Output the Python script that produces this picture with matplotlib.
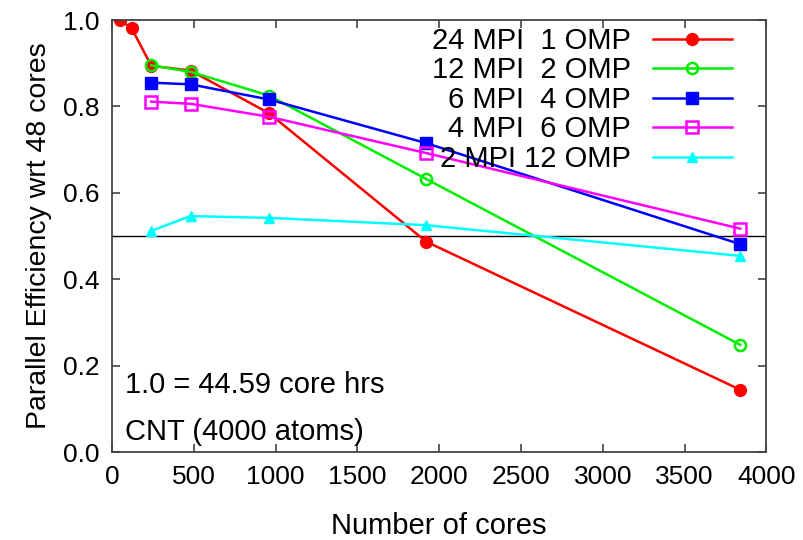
import matplotlib.pyplot as plt
import numpy as np


plt.rcParams.update({
    "font.family": ["Liberation Sans", "DejaVu Sans"],
    "font.size": 19,
    "axes.linewidth": 1.3,
    "axes.edgecolor": "#444444",
})

# data
cores_24x1 = [48, 120, 240, 480, 960, 1920, 3840]
eff_24x1 = [1.0, 0.981, 0.894, 0.883, 0.784, 0.487, 0.144]

cores = [240, 480, 960, 1920, 3840]
eff_12x2 = [0.895, 0.880, 0.825, 0.632, 0.248]
eff_6x4 = [0.855, 0.851, 0.816, 0.715, 0.481]
eff_4x6 = [0.811, 0.806, 0.776, 0.692, 0.517]
eff_2x12 = [0.512, 0.546, 0.542, 0.525, 0.454]

labels = ["24 MPI  1 OMP", "12 MPI  2 OMP", "6 MPI  4 OMP",
          "4 MPI  6 OMP", "2 MPI 12 OMP"]


fig = plt.figure(figsize=(8.04, 5.40), dpi=100)
ax = fig.add_axes([112/804, 1-452/540, 654.5/804, 432/540])

ax.axhline(0.5, color="black", lw=1.0, zorder=1)

ax.plot(cores_24x1, eff_24x1, color="#ff0000", lw=1.8, marker="o",
        ms=8.5, label=labels[0])
ax.plot(cores, eff_12x2, color="#00ee00", lw=1.8, marker="o", ms=8,
        mfc="none", mew=1.8, label=labels[1])
ax.plot(cores, eff_6x4, color="#0000ff", lw=1.8, marker="s", ms=8,
        label=labels[2])
ax.plot(cores, eff_4x6, color="#ff00ff", lw=1.8, marker="s", ms=8.5,
        mfc="none", mew=1.8, label=labels[3])
ax.plot(cores, eff_2x12, color="#00ffff", lw=1.8, marker="^", ms=7,
        label=labels[4])

ax.set_xlim(0, 4000)
ax.set_ylim(0, 1.0)
ax.set_xticks(np.arange(0, 4001, 500))
ax.set_yticks(np.arange(0, 1.01, 0.2))
ax.yaxis.set_major_formatter(plt.FormatStrFormatter("%.1f"))
ax.tick_params(direction="in", length=6, width=1.2, top=True, right=True,
               pad=9, color="#444444")

ax.set_xlabel("Number of cores", labelpad=17, fontsize=21)
ax.set_ylabel("Parallel Efficiency wrt 48 cores", labelpad=8, fontsize=20.5)

ax.text(0.02, 0.155, "1.0 = 44.59 core hrs", transform=ax.transAxes,
        va="center", ha="left", fontsize=21)
ax.text(0.02, 0.046, "CNT (4000 atoms)", transform=ax.transAxes,
        va="center", ha="left", fontsize=21)

ax.legend(loc="upper right", bbox_to_anchor=(0.947, 0.984),
          frameon=False, markerfirst=False, borderpad=0,
          borderaxespad=0, handlelength=2.7, handletextpad=0.75,
          labelspacing=0.05, fontsize=21)

fig.savefig("out.png", dpi=100)
